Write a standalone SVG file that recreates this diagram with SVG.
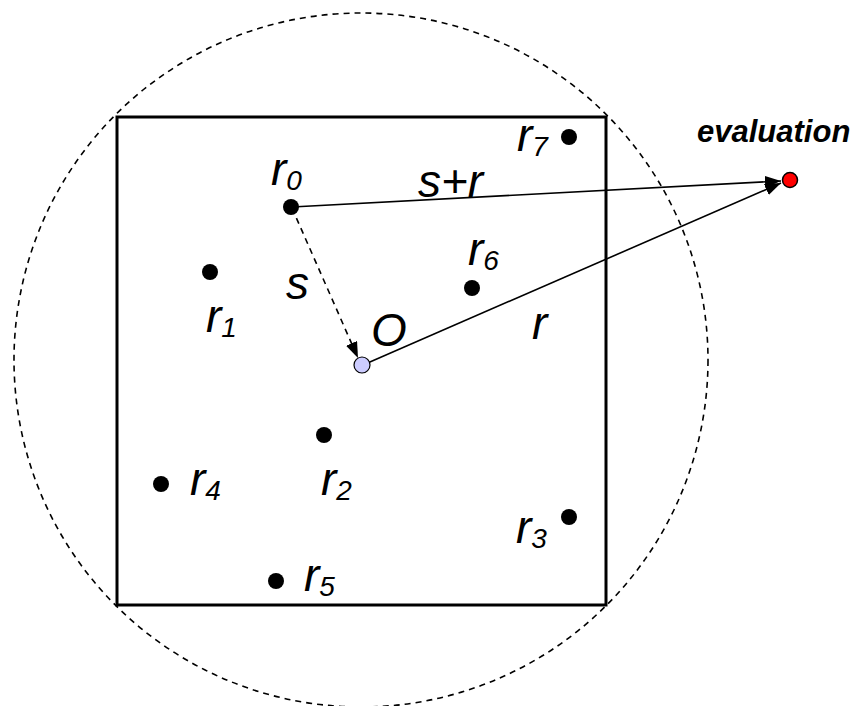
<svg xmlns="http://www.w3.org/2000/svg" width="856" height="706" viewBox="0 0 856 706">
<defs>
<marker id="ah" viewBox="0 0 16 12" refX="16" refY="6" markerWidth="16" markerHeight="12" markerUnits="userSpaceOnUse" orient="auto">
<path d="M0,0 L16,6 L0,12 Z" fill="#000"/>
</marker>
</defs>
<style>
.lbl{font-family:"Liberation Sans",Arial,sans-serif;font-style:italic;font-size:46px;fill:#000}
.sub{font-size:28px}
.dot{fill:#000}
.ln{stroke:#000;stroke-width:1.6;fill:none}
</style>
<rect width="856" height="706" fill="#fff"/>
<circle id="boundary" cx="361" cy="360" r="347" fill="none" stroke="#000" stroke-width="1.6" stroke-dasharray="6,5"/>
<rect id="cell" x="117" y="117" width="489" height="488" fill="none" stroke="#000" stroke-width="3"/>
<g id="connectors">
<line class="ln" x1="292" y1="207" x2="781" y2="181" marker-end="url(#ah)"/>
<line class="ln" x1="363" y1="365" x2="781" y2="183" marker-end="url(#ah)"/>
<line class="ln" x1="292" y1="208" x2="358" y2="358" stroke-dasharray="6,5" marker-end="url(#ah)"/>
</g>
<g id="r0"><circle class="dot" cx="291" cy="207" r="8"/><text class="lbl" x="271" y="185">r<tspan class="sub" dy="5">0</tspan></text></g>
<g id="r1"><circle class="dot" cx="210" cy="272" r="8"/><text class="lbl" x="206" y="332">r<tspan class="sub" dy="5">1</tspan></text></g>
<g id="r2"><circle class="dot" cx="324" cy="435" r="8"/><text class="lbl" x="321" y="495">r<tspan class="sub" dy="5">2</tspan></text></g>
<g id="r3"><circle class="dot" cx="569" cy="517" r="8"/><text class="lbl" x="516" y="543">r<tspan class="sub" dy="5">3</tspan></text></g>
<g id="r4"><circle class="dot" cx="161" cy="484" r="8"/><text class="lbl" x="190" y="495">r<tspan class="sub" dy="5">4</tspan></text></g>
<g id="r5"><circle class="dot" cx="276" cy="581" r="8"/><text class="lbl" x="304" y="591">r<tspan class="sub" dy="5">5</tspan></text></g>
<g id="r6"><circle class="dot" cx="472" cy="288" r="8"/><text class="lbl" x="468" y="265">r<tspan class="sub" dy="5">6</tspan></text></g>
<g id="r7"><circle class="dot" cx="569" cy="137" r="8"/><text class="lbl" x="517" y="151">r<tspan class="sub" dy="5">7</tspan></text></g>
<g id="origin"><circle cx="362" cy="365" r="8" fill="#ccccff" stroke="#000" stroke-width="1.2"/><text class="lbl" x="371" y="346">O</text></g>
<g id="evaluation"><circle cx="790" cy="180" r="7.5" fill="#ff0000" stroke="#000" stroke-width="1.5"/><text x="697" y="142" style="font-family:'Liberation Sans',Arial,sans-serif;font-style:italic;font-weight:bold;font-size:31px">evaluation</text></g>
<g id="labels">
<text class="lbl" x="418" y="197">s+r</text>
<text class="lbl" x="286" y="299">s</text>
<text class="lbl" x="532" y="339">r</text>
</g>
</svg>
